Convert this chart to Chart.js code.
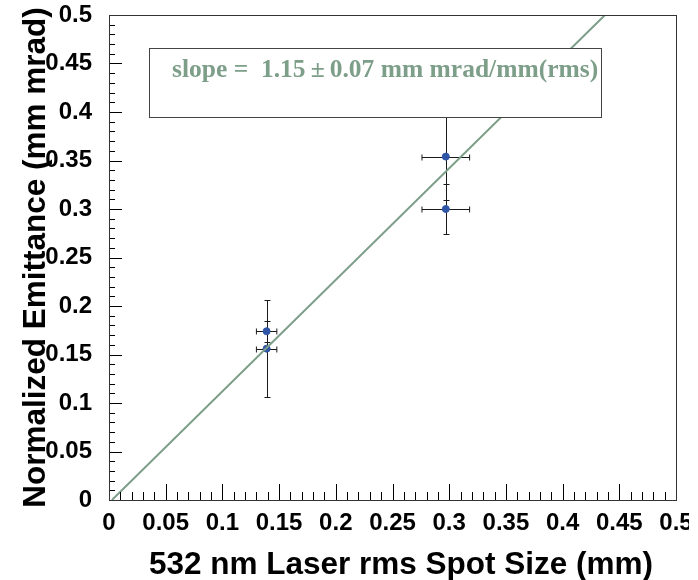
<!DOCTYPE html>
<html>
<head>
<meta charset="utf-8">
<script src="https://cdn.jsdelivr.net/npm/chart.js@4.4.1/dist/chart.umd.min.js"></script>
<style>
  html, body { margin: 0; padding: 0; background: #fff; }
  #wrap { width: 689px; height: 580px; overflow: hidden; }
</style>
</head>
<body>
<div id="wrap"><canvas id="emitChart" width="698" height="580"></canvas></div>
<script>
// laser spot size (mm) and normalized emittance (mm mrad)
const spotSize = [0.139, 0.139, 0.297, 0.297];
const spotErr = [0.009, 0.009, 0.021, 0.021];
const emittance = [0.174, 0.156, 0.354, 0.300];
const emittanceErr = [0.011, 0.05, 0.045, 0.026];

// linear fit, end points where it enters / leaves the frame
const fitX = [0.0026, 0.4374];
const fitY = [0, 0.5];

const xTicks = [0, 0.05, 0.1, 0.15, 0.2, 0.25, 0.3, 0.35, 0.4, 0.45, 0.5];
const xTickLabels = ["0", "0.05", "0.1", "0.15", "0.2", "0.25", "0.3", "0.35", "0.4", "0.45", "0.5"];
const yTicks = [0, 0.05, 0.1, 0.15, 0.2, 0.25, 0.3, 0.35, 0.4, 0.45, 0.5];
const yTickLabels = ["0", "0.05", "0.1", "0.15", "0.2", "0.25", "0.3", "0.35", "0.4", "0.45", "0.5"];

const xTitle = "532 nm Laser rms Spot Size (mm)";
const yTitle = "Normalized Emittance (mm mrad)";
const fitText = "slope =  1.15\u2009\u00b1\u20090.07 mm mrad/mm(rms)";

const fitColor = "#7d9e89";
const markerColor = "#2f55a6";
const sansFamily = "'Liberation Sans', Arial, sans-serif";
const sansBold = (size) => ({ family: sansFamily, size: size, weight: "bold" });

// error bars under the markers
const errorBars = {
  id: "errorBars",
  beforeDatasetsDraw(chart) {
    const { ctx, scales: { x, y } } = chart;
    ctx.save();
    ctx.strokeStyle = "#1a1a1a";
    ctx.lineWidth = 1;
    ctx.beginPath();
    for (let i = 0; i < spotSize.length; i++) {
      const px = Math.round(x.getPixelForValue(spotSize[i])) + 0.5;
      const py = Math.round(y.getPixelForValue(emittance[i])) + 0.5;
      const x0 = x.getPixelForValue(spotSize[i] - spotErr[i]);
      const x1 = x.getPixelForValue(spotSize[i] + spotErr[i]);
      const y0 = Math.round(y.getPixelForValue(emittance[i] - emittanceErr[i])) + 0.5;
      const y1 = Math.round(y.getPixelForValue(emittance[i] + emittanceErr[i])) + 0.5;
      ctx.moveTo(x0, py); ctx.lineTo(x1, py);
      ctx.moveTo(x0, py - 3); ctx.lineTo(x0, py + 3);
      ctx.moveTo(x1, py - 3); ctx.lineTo(x1, py + 3);
      ctx.moveTo(px, y0); ctx.lineTo(px, y1);
      ctx.moveTo(px - 3, y0); ctx.lineTo(px + 3, y0);
      ctx.moveTo(px - 3, y1); ctx.lineTo(px + 3, y1);
    }
    ctx.stroke();
    ctx.restore();
  }
};

// ROOT style frame with inward ticks, x title, and the fit result box
const rootFrame = {
  id: "rootFrame",
  afterDatasetsDraw(chart) {
    const { ctx, chartArea: a, scales: { x, y } } = chart;
    ctx.save();
    ctx.strokeStyle = "#000";
    ctx.lineWidth = 1;
    ctx.beginPath();
    for (let k = 0; k <= 50; k++) {
      const major = k % 5 === 0;
      const px = Math.round(x.getPixelForValue(k / 100)) + 0.5;
      ctx.moveTo(px, a.bottom);
      ctx.lineTo(px, a.bottom - (major ? 16 : 8));
      const py = Math.round(y.getPixelForValue(k / 100)) + 0.5;
      ctx.moveTo(a.left, py);
      ctx.lineTo(a.left + (major ? 13 : 6), py);
    }
    ctx.stroke();
    ctx.strokeStyle = "#333";
    ctx.strokeRect(a.left + 0.5, a.top + 0.5, a.width, a.height);

    // x axis title, ROOT puts it a bit right of centre
    ctx.fillStyle = "#000";
    ctx.font = "bold 31.5px " + sansFamily;
    ctx.textAlign = "center";
    ctx.textBaseline = "alphabetic";
    ctx.fillText(xTitle, 401, 574);

    // fit result box
    ctx.fillStyle = "#fff";
    ctx.fillRect(149, 48, 452, 69);
    ctx.strokeStyle = "#444";
    ctx.strokeRect(149.5, 48.5, 452, 69);
    ctx.fillStyle = fitColor;
    ctx.font = "bold 25.5px 'Liberation Serif', 'Times New Roman', serif";
    ctx.textAlign = "left";
    ctx.fillText(fitText, 172, 77);
    ctx.restore();
  }
};

const ctx = document.getElementById("emitChart").getContext("2d");
new Chart(ctx, {
  type: "scatter",
  data: {
    datasets: [
      {
        type: "line",
        label: "fit",
        data: fitX.map((v, i) => ({ x: v, y: fitY[i] })),
        borderColor: fitColor,
        borderWidth: 2,
        pointRadius: 0,
        fill: false,
      },
      {
        label: "emittance",
        data: spotSize.map((v, i) => ({ x: v, y: emittance[i] })),
        backgroundColor: markerColor,
        borderColor: markerColor,
        pointRadius: 3.5,
        borderWidth: 1,
      },
    ],
  },
  options: {
    responsive: false,
    animation: false,
    layout: { padding: { top: 15, right: 22, left: 0, bottom: 0 } },
    plugins: {
      legend: { display: false },
      tooltip: { enabled: false },
    },
    scales: {
      x: {
        type: "linear",
        min: 0,
        max: 0.5,
        grid: { display: false },
        border: { display: false },
        afterBuildTicks: (scale) => { scale.ticks = xTicks.map((v) => ({ value: v })); },
        afterFit: (scale) => { scale.height = 80; scale.paddingLeft = 0; scale.paddingRight = 0; },
        ticks: {
          color: "#000",
          font: sansBold(24),
          padding: 1,
          maxRotation: 0,
          callback: (v, i) => xTickLabels[i],
        },
        title: { display: false },
      },
      y: {
        type: "linear",
        min: 0,
        max: 0.5,
        grid: { display: false },
        border: { display: false },
        afterBuildTicks: (scale) => { scale.ticks = yTicks.map((v) => ({ value: v })); },
        afterFit: (scale) => { scale.width = 109; scale.paddingTop = 0; scale.paddingBottom = 0; },
        ticks: {
          color: "#000",
          font: sansBold(24),
          padding: 9,
          callback: (v, i) => yTickLabels[i],
        },
        title: {
          display: true,
          text: yTitle,
          color: "#000",
          font: { ...sansBold(31.5), lineHeight: 1 },
          padding: { top: 21, bottom: 0 },
        },
      },
    },
  },
  plugins: [errorBars, rootFrame],
});
</script>
</body>
</html>
